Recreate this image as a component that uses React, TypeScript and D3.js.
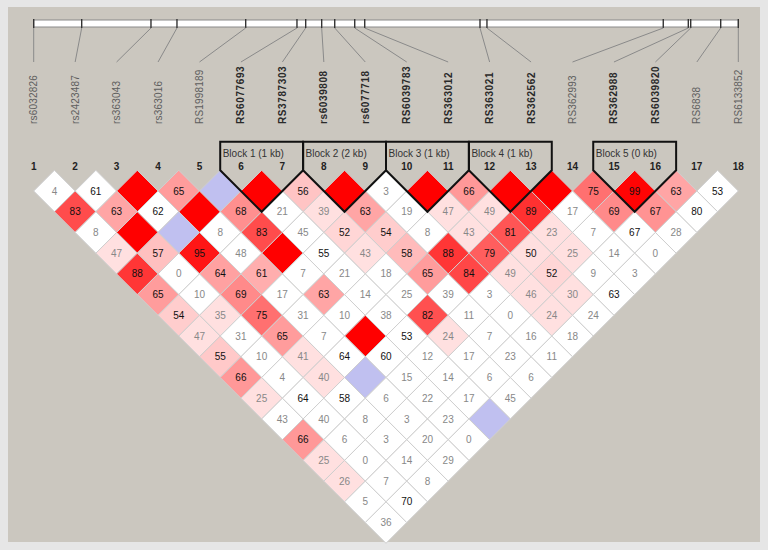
import React from "react";
import * as d3 from "d3";

// ---- data ----
const snpNames = [
  "rs6032826", "rs2423487", "rs363043", "rs363016", "RS1998189", "RS6077693",
  "RS3787303", "rs6039808", "rs6077718", "RS6039783", "RS363012", "RS363021",
  "RS362562", "RS362993", "RS362988", "RS6039820", "RS6838", "RS6133852",
];
// approximate map positions (kb from first marker)
const mapPosKb = [0, 6.0, 14.66, 17.91, 26.5, 32.91, 34.0, 36.0, 37.63, 40.13, 41.38, 55.79, 56.66, 78.7, 81.83, 82.13, 85.88, 88.08];

// D' x100 by marker distance (row r holds pairs (i, i+r))
const dPrimeRows: number[][] = [
  [4, 61, 100, 65, 100, 100, 56, 100, 3, 100, 66, 100, 100, 75, 99, 63, 53],
  [83, 63, 62, 100, 68, 21, 39, 63, 19, 47, 49, 89, 17, 69, 67, 80],
  [8, 100, 100, 8, 83, 45, 52, 54, 8, 43, 81, 23, 7, 67, 28],
  [47, 57, 95, 48, 100, 55, 43, 58, 88, 79, 50, 25, 14, 0],
  [88, 0, 64, 61, 7, 21, 18, 65, 84, 49, 52, 9, 3],
  [65, 10, 69, 17, 63, 14, 25, 39, 3, 46, 30, 63],
  [54, 35, 75, 31, 10, 38, 82, 11, 0, 24, 24],
  [47, 31, 65, 7, 100, 53, 24, 7, 16, 18],
  [55, 10, 41, 64, 60, 12, 17, 23, 11],
  [66, 4, 40, 100, 15, 14, 6, 6],
  [25, 64, 58, 6, 22, 17, 45],
  [43, 40, 8, 3, 23, 100],
  [66, 6, 3, 20, 0],
  [25, 0, 14, 29],
  [26, 7, 8],
  [5, 70],
  [36],
];
// LOD >= 2 flags, same layout
const lodHighRows: string[] = [
  "00110111011111110",
  "1101101101110110",
  "010010110111000",
  "11101011111100",
  "1011000111100",
  "101010000110",
  "11100010010",
  "1010101000",
  "101000000",
  "10100000",
  "1000000",
  "000000",
  "10000",
  "1000",
  "100",
  "00",
  "0",
];

const blockStarts = [6, 8, 10, 12, 15];
const blockEnds = [7, 9, 11, 13, 16];
const blockLabels = ["Block 1 (1 kb)", "Block 2 (2 kb)", "Block 3 (1 kb)", "Block 4 (1 kb)", "Block 5 (0 kb)"];

// ---- layout ----
const W = 768;
const H = 550;
const N = snpNames.length;
const xIdx = d3.scaleLinear().domain([1, N]).range([33.7, 738.3]);
const xMap = d3.scaleLinear().domain([0, mapPosKb[N - 1]]).range([33.7, 738.3]);
const s = xIdx(2) - xIdx(1);
const h = s / 2;
const yRow = d3.scaleLinear().domain([1, 17]).range([191, 191 + 16 * h]);

function cellColor(d: number, lodHigh: boolean): string {
  if (lodHigh) {
    if (d < 50) return "rgb(255,224,224)";
    const g = Math.round((255 - 32) * 2 * (1 - d / 100));
    return `rgb(255,${g},${g})`;
  }
  if (d >= 99.5) return "rgb(192,192,240)";
  return "#ffffff";
}

const inBlock = (i: number) => blockStarts.some((a, k) => i >= a && i <= blockEnds[k]);

export default function App() {
  const cells: { i: number; j: number; d: number; hi: boolean }[] = [];
  dPrimeRows.forEach((row, r) => {
    row.forEach((d, k) => {
      cells.push({ i: k + 1, j: k + 1 + r + 1, d, hi: lodHighRows[r][k] === "1" });
    });
  });

  const barY0 = 20;
  const barY1 = 27;
  const labelBase = 124;
  const lineEnd = 62;
  const numY = 170;
  const boxTop = 141.7;
  const triTop = yRow(1) - h;

  return (
    <svg
      width={W}
      height={H}
      style={{ position: "absolute", left: 0, top: 0, display: "block" }}
      fontFamily="'Liberation Sans', Arial, sans-serif"
    >
      <rect x={0} y={0} width={W} height={H} fill="#e6e6e6" />
      <rect x={8} y={7} width={752} height={535} fill="#cbc7bf" />

      {/* map bar */}
      <rect x={xIdx(1)} y={barY0} width={xIdx(N) - xIdx(1)} height={barY1 - barY0} fill="#ffffff" stroke="#8a8a8a" strokeWidth={1} />
      {mapPosKb.map((p, k) => (
        <g key={"t" + k}>
          <line x1={xMap(p)} x2={xMap(p)} y1={barY0 - 1} y2={barY1 + 1} stroke="#333" strokeWidth={1.4} />
          <line x1={xMap(p)} y1={barY1 + 1} x2={xIdx(k + 1)} y2={lineEnd} stroke="#8a8a8a" strokeWidth={1} />
        </g>
      ))}

      {/* marker names */}
      {snpNames.map((n, k) => {
        const b = inBlock(k + 1);
        const x = xIdx(k + 1) + 3.5;
        return (
          <text
            key={"n" + k}
            transform={`translate(${x},${labelBase}) rotate(-90)`}
            fontSize={10}
            fontWeight={b ? "bold" : "normal"}
            letterSpacing={b ? 0.6 : 0.2}
            fill={b ? "#2a2a2a" : "#5e5e5e"}
          >
            {n}
          </text>
        );
      })}

      {/* cells */}
      {cells.map((c) => {
        const cx = (xIdx(c.i) + xIdx(c.j)) / 2;
        const cy = yRow(c.j - c.i);
        const pts = `${cx},${cy - h} ${cx + h},${cy} ${cx},${cy + h} ${cx - h},${cy}`;
        return (
          <g key={`c${c.i}-${c.j}`}>
            <polygon points={pts} fill={cellColor(c.d, c.hi)} stroke="#cfcfcf" strokeWidth={1} />
            {c.d < 100 ? (
              <text
                x={cx}
                y={cy + 3.6}
                textAnchor="middle"
                fontSize={10}
                fill={c.d >= 50 ? "#111" : "#888"}
              >
                {c.d}
              </text>
            ) : null}
          </g>
        );
      })}

      {/* blocks */}
      {blockStarts.map((a, k) => {
        const b = blockEnds[k];
        const xl = xIdx(a) - s / 2;
        const xr = xIdx(b) + s / 2;
        const bx = (xIdx(a) + xIdx(b)) / 2;
        const by = yRow(b - a) + h;
        const path = `M${xl},${triTop} L${xl},${boxTop} L${xr},${boxTop} L${xr},${triTop} L${bx},${by} Z`;
        return (
          <g key={"b" + k}>
            <path d={path} fill="none" stroke="#111" strokeWidth={2} strokeLinejoin="miter" />
            <text x={xl + 2.5} y={boxTop + 15.5} fontSize={10} fill="#333">
              {blockLabels[k]}
            </text>
          </g>
        );
      })}

      {/* marker numbers */}
      {snpNames.map((_, k) => (
        <text key={"i" + k} x={xIdx(k + 1)} y={numY} textAnchor="middle" fontSize={10} fontWeight="bold" fill="#222">
          {k + 1}
        </text>
      ))}
    </svg>
  );
}
